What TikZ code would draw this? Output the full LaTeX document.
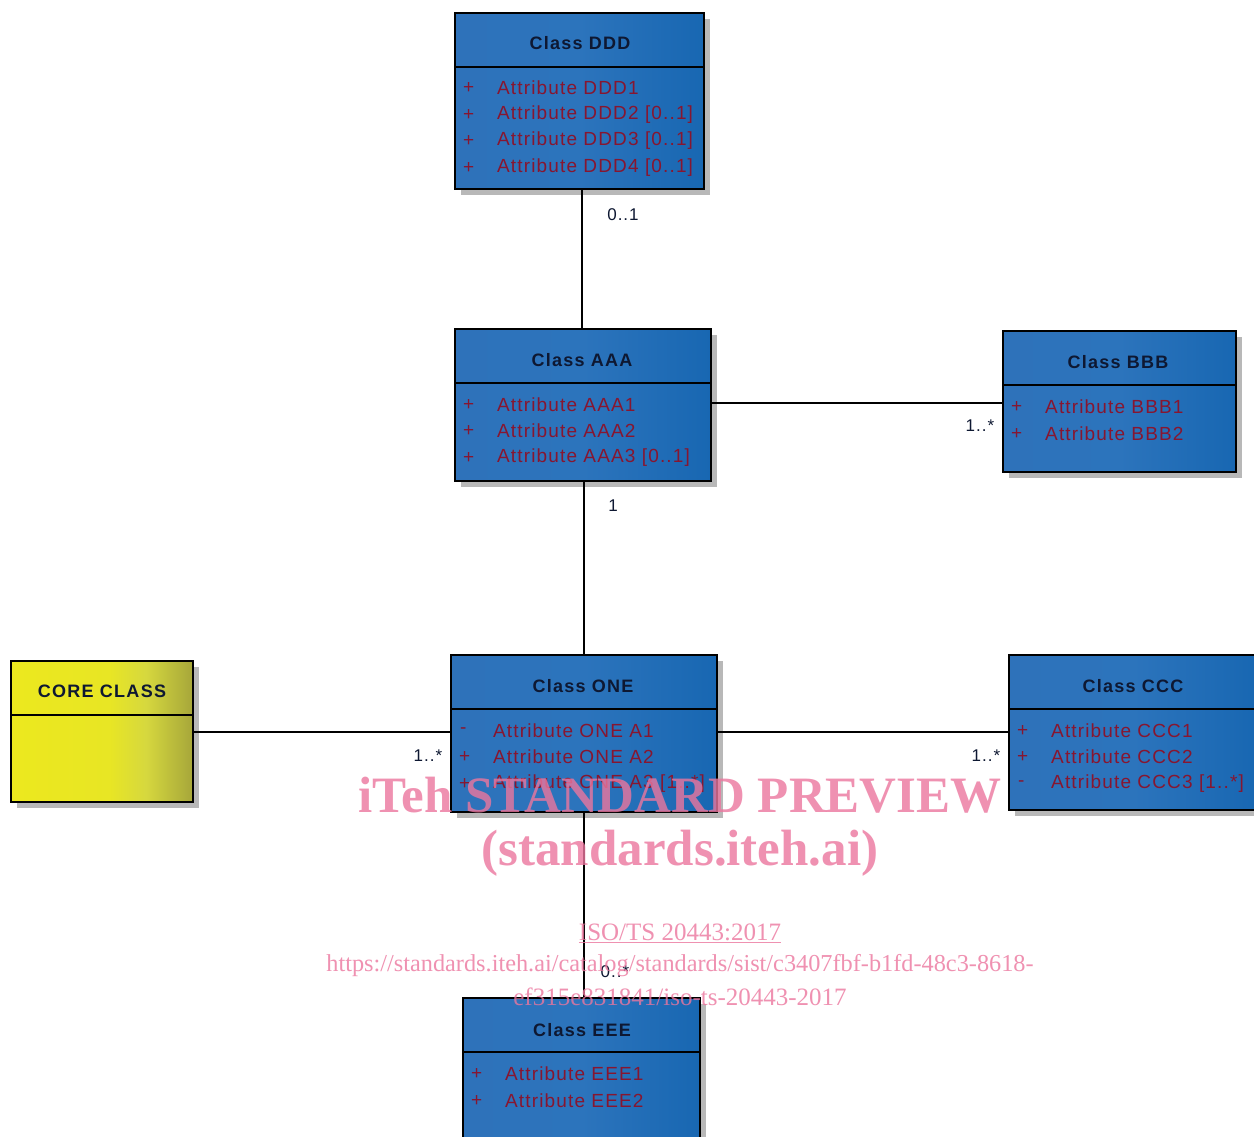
\documentclass[tikz,border=0pt]{standalone}
\usepackage{fontspec}
\setmainfont{Liberation Serif}
\newfontfamily\umlfont[LetterSpace=6]{Liberation Sans}
\newfontfamily\umlbold[LetterSpace=7]{Liberation Sans Bold}
\usetikzlibrary{shadows}
\definecolor{blueL}{RGB}{46,114,186}
\definecolor{blueM}{RGB}{44,116,188}
\definecolor{blueR}{RGB}{24,103,178}
\definecolor{yelL}{RGB}{236,232,30}
\definecolor{yelA}{RGB}{232,230,36}
\definecolor{yelB}{RGB}{214,216,62}
\definecolor{yelR}{RGB}{166,166,58}
\definecolor{titlec}{RGB}{14,24,50}
\definecolor{attrc}{RGB}{135,22,48}
\definecolor{wm}{RGB}{236,118,158}
\pgfdeclarehorizontalshading{yelshade}{100bp}{color(0bp)=(yelL); color(25bp)=(yelL); color(52bp)=(yelA); color(62bp)=(yelB); color(75bp)=(yelR); color(100bp)=(yelR)}
\tikzset{
  classbox/.style={draw=black, line width=1.6pt, inner sep=0pt, rectangle,
    left color=blueL, right color=blueR, middle color=blueM,
    drop shadow={shadow xshift=6pt, shadow yshift=-6pt, fill=black!28, opacity=1}},
  corebox/.style={draw=black, line width=1.6pt, inner sep=0pt, rectangle,
    shading=yelshade,
    drop shadow={shadow xshift=6pt, shadow yshift=-6pt, fill=black!28, opacity=1}},
  ctitle/.style={font=\umlbold\fontsize{18}{20}\selectfont, text=titlec, inner sep=0pt},
  attr/.style={font=\umlfont\fontsize{19}{21}\selectfont, text=attrc, anchor=west, inner sep=0pt},
  mult/.style={font=\umlfont\fontsize{17}{19}\selectfont, text=titlec, inner sep=0pt},
  assoc/.style={draw=black, line width=1.5pt},
  hdr/.style={draw=black, line width=1.5pt},
  wmark/.style={text=wm, opacity=0.8, inner sep=0pt}
}
\begin{document}
\begin{tikzpicture}[x=1pt,y=-1pt]
\useasboundingbox (0,0) rectangle (1254,1137);
\clip (0,0) rectangle (1254,1137);
\fill[white] (0,0) rectangle (1254,1137);

% class boxes
\node[classbox, minimum width=249pt, minimum height=176pt] (ddd) at (579.5,101) {};
\node[classbox, minimum width=256pt, minimum height=152pt] (aaa) at (583,405) {};
\node[classbox, minimum width=233pt, minimum height=141pt] (bbb) at (1119.5,401.5) {};
\node[corebox, minimum width=182pt, minimum height=141pt] (core) at (102,731.5) {};
\node[classbox, minimum width=266pt, minimum height=157pt] (one) at (584,733.5) {};
\node[classbox, minimum width=248pt, minimum height=155pt] (ccc) at (1133,732.5) {};
\node[classbox, minimum width=237pt, minimum height=170pt] (eee) at (581.5,1083) {};

% header separators
\draw[hdr] (ddd.north west) ++(0,55) -- ++(249,0);
\draw[hdr] (aaa.north west) ++(0,55) -- ++(256,0);
\draw[hdr] (bbb.north west) ++(0,55) -- ++(233,0);
\draw[hdr] (core.north west) ++(0,55) -- ++(182,0);
\draw[hdr] (one.north west) ++(0,55) -- ++(266,0);
\draw[hdr] (ccc.north west) ++(0,55) -- ++(248,0);
\draw[hdr] (eee.north west) ++(0,55) -- ++(237,0);

% associations
\draw[assoc] (ddd.south -| 582,0) -- (aaa.north -| 582,0);
\draw[assoc] (aaa.east |- 0,403) -- (bbb.west |- 0,403);
\draw[assoc] (aaa.south -| 584,0) -- (one.north -| 584,0);
\draw[assoc] (core.east |- 0,732) -- (one.west |- 0,732);
\draw[assoc] (one.east |- 0,732) -- (ccc.west |- 0,732);
\draw[assoc] (one.south -| 584,0) -- (eee.north -| 584,0);

% multiplicities
\node[mult] (m1) at (623,215) {0..1};
\node[mult] (m2) at (980,426) {1..*};
\node[mult] (m3) at (613,506) {1};
\node[mult] (m4) at (428,756) {1..*};
\node[mult] (m5) at (986,756) {1..*};
\node[mult] (m6) at (615,972) {0..*};

% titles
\node[ctitle] (tddd) at (580,43) {Class DDD};
\node[ctitle] (taaa) at (582,360) {Class AAA};
\node[ctitle] (tbbb) at (1118,362) {Class BBB};
\node[ctitle] (tcore) at (102,691) {CORE CLASS};
\node[ctitle] (tone) at (583,686) {Class ONE};
\node[ctitle] (tccc) at (1133,686) {Class CCC};
\node[ctitle] (teee) at (582,1030) {Class EEE};

% attributes DDD
\foreach \y/\t [count=\i] in {88/Attribute DDD1, 115/Attribute DDD2 [0..1], 141/Attribute DDD3 [0..1], 168/Attribute DDD4 [0..1]} {
  \node[attr] (dddm\i) at (463,\y) {+};
  \node[attr] (ddda\i) at (497,\y) {\t};
}
% attributes AAA
\foreach \y/\t [count=\i] in {405/Attribute AAA1, 431/Attribute AAA2, 458/Attribute AAA3 [0..1]} {
  \node[attr] (aaam\i) at (463,\y) {+};
  \node[attr] (aaaa\i) at (497,\y) {\t};
}
% attributes BBB
\foreach \y/\t [count=\i] in {407/Attribute BBB1, 434/Attribute BBB2} {
  \node[attr] (bbbm\i) at (1011,\y) {+};
  \node[attr] (bbba\i) at (1045,\y) {\t};
}
% attributes ONE
\node[attr] (onem1) at (460,731) {-};
\node[attr] (onea1) at (493,731) {Attribute ONE A1};
\node[attr] (onem2) at (459,757) {+};
\node[attr] (onea2) at (493,757) {Attribute ONE A2};
\node[attr] (onem3) at (459,784) {+};
\node[attr] (onea3) at (493,784) {Attribute ONE A3 [1..*]};
% attributes CCC
\node[attr] (cccm1) at (1017,731) {+};
\node[attr] (ccca1) at (1051,731) {Attribute CCC1};
\node[attr] (cccm2) at (1017,757) {+};
\node[attr] (ccca2) at (1051,757) {Attribute CCC2};
\node[attr] (cccm3) at (1018,784) {-};
\node[attr] (ccca3) at (1051,784) {Attribute CCC3 [1..*]};
% attributes EEE
\node[attr] (eeem1) at (471,1074) {+};
\node[attr] (eeea1) at (505,1074) {Attribute EEE1};
\node[attr] (eeem2) at (471,1101) {+};
\node[attr] (eeea2) at (505,1101) {Attribute EEE2};

% watermark
\node[wmark, font=\bfseries\fontsize{51}{55}\selectfont] (w1) at (680,795) {iTeh STANDARD PREVIEW};
\node[wmark, font=\bfseries\fontsize{51}{55}\selectfont] (w2) at (680,853) {(standards.iteh.ai)};
\node[wmark, font=\fontsize{25}{27}\selectfont] (w3) at (680,933) {\underline{ISO/TS 20443:2017}};
\node[wmark, font=\fontsize{24.3}{27}\selectfont] (w4) at (680,966) {https://standards.iteh.ai/catalog/standards/sist/c3407fbf-b1fd-48c3-8618-};
\node[wmark, font=\fontsize{25}{27}\selectfont] (w5) at (680,997) {ef315e831841/iso-ts-20443-2017};
\end{tikzpicture}
\end{document}
